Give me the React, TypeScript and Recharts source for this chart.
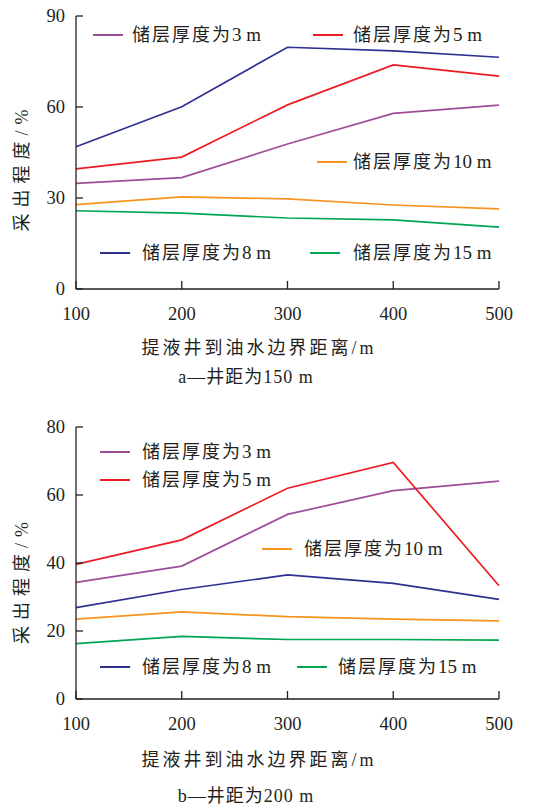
import React from 'react';
import { LineChart, Line, XAxis, YAxis, Label } from 'recharts';

// distance from liquid-producing well to the oil-water boundary, m
const distances = [100, 200, 300, 400, 500];

// a — well spacing 150 m, recovery degree %
const a3m = [34.8, 36.7, 47.8, 57.9, 60.6];
const a5m = [39.6, 43.5, 60.7, 73.9, 70.2];
const a8m = [46.9, 60.1, 79.7, 78.5, 76.4];
const a10m = [27.8, 30.4, 29.7, 27.7, 26.4];
const a15m = [25.8, 25.0, 23.4, 22.8, 20.4];

// b — well spacing 200 m
const b3m = [34.3, 39.1, 54.3, 61.3, 64.1];
const b5m = [39.6, 46.8, 62.0, 69.6, 33.3];
const b8m = [26.9, 32.2, 36.5, 34.0, 29.3];
const b10m = [23.5, 25.6, 24.2, 23.5, 23.0];
const b15m = [16.3, 18.4, 17.5, 17.5, 17.3];

const yTicksA = [0, 30, 60, 90];
const yTicksB = [0, 20, 40, 60, 80];

const seriesNames = ['储层厚度为3 m', '储层厚度为5 m', '储层厚度为8 m', '储层厚度为10 m', '储层厚度为15 m'];
const seriesKeys = ['t3', 't5', 't8', 't10', 't15'];
const seriesColors = ['#9e4d98', '#ed1c24', '#2e3192', '#f7941d', '#00a651'];

const yLabel = '采出程度/%';
const xLabel = '提液井到油水边界距离/m';
const titleA = 'a—井距为150 m';
const titleB = 'b—井距为200 m';

const axisColor = '#231f20';
const textColor = '#231f20';
const numFont = "'Liberation Serif', 'Noto Sans CJK SC', serif";
const cjkFont = "'Liberation Serif', 'Noto Sans CJK SC', serif";

const buildRows = (cols: number[][]) =>
  distances.map((d, i) => {
    const row: Record<string, number> = { d };
    seriesKeys.forEach((k, j) => (row[k] = cols[j][i]));
    return row;
  });

const dataA = buildRows([a3m, a5m, a8m, a10m, a15m]);
const dataB = buildRows([b3m, b5m, b8m, b10m, b15m]);

// legend placement inside each plot (page px): line start, text start, line centre y
const legendA = [
  { key: 't3', lx: 93, tx: 132, y: 35 },
  { key: 't5', lx: 313, tx: 353, y: 35 },
  { key: 't10', lx: 317, tx: 353, y: 162 },
  { key: 't8', lx: 100, tx: 142, y: 253 },
  { key: 't15', lx: 310, tx: 353, y: 253 },
];
const legendB = [
  { key: 't3', lx: 100, tx: 142, y: 452 },
  { key: 't5', lx: 100, tx: 142, y: 480 },
  { key: 't10', lx: 262, tx: 304, y: 549 },
  { key: 't8', lx: 100, tx: 142, y: 667 },
  { key: 't15', lx: 297, tx: 338, y: 667 },
];

// spread the Chinese characters, keep "3 m" tight
const splitName = (s: string) => {
  const i = s.search(/[0-9]/);
  return [s.slice(0, i), s.slice(i)];
};

const XTick = (props: any) => {
  const { x, y, payload } = props;
  return (
    <g>
      <line x1={x} y1={y} x2={x} y2={y - 8} stroke={axisColor} strokeWidth={1.3} />
      <text x={x} y={y + 31} textAnchor="middle" fontSize={18.5} fontFamily={numFont} fill={textColor}>
        {payload.value}
      </text>
    </g>
  );
};

const YTick = (props: any) => {
  const { x, y, payload } = props;
  return (
    <g>
      <line x1={x} y1={y} x2={x + 7} y2={y} stroke={axisColor} strokeWidth={1.3} />
      <text x={x - 11} y={y + 6} textAnchor="end" fontSize={18.5} fontFamily={numFont} fill={textColor}>
        {payload.value}
      </text>
    </g>
  );
};

const Panel = ({ data, yMax, yTicks, title, height, top, legend, yLabelShift, lblGap, titleGap }: any) => (
  <div style={{ position: 'absolute', left: 0, top, width: 560, height }}>
    <LineChart width={560} height={height} data={data} margin={{ top: top === 0 ? 16 : 27, right: 61, bottom: top === 0 ? 11 : 9, left: 0 }}>
      <XAxis
        dataKey="d"
        type="number"
        domain={[100, 500]}
        ticks={distances}
        height={100}
        tickSize={0}
        tickMargin={0}
        tickLine={false}
        tick={<XTick />}
        axisLine={{ stroke: axisColor, strokeWidth: 1.3 }}
        interval={0}
      >
        <Label
          content={(p: any) => {
            const vb = p.viewBox;
            return (
              <g fontFamily={cjkFont} fill={textColor} fontSize={18}>
                <text x={259} y={vb.y + lblGap} textAnchor="middle" letterSpacing={3} fill={textColor}>
                  {xLabel}
                </text>
                <text x={246} y={vb.y + titleGap} textAnchor="middle" letterSpacing={1} fill={textColor}>
                  {title}
                </text>
              </g>
            );
          }}
        />
      </XAxis>
      <YAxis
        type="number"
        domain={[0, yMax]}
        ticks={yTicks}
        width={76}
        tickSize={0}
        tickMargin={0}
        tickLine={false}
        tick={<YTick />}
        axisLine={{ stroke: axisColor, strokeWidth: 1.3 }}
        interval={0}
      >
        <Label
          content={(p: any) => {
            const vb = p.viewBox;
            const cx = 22;
            const cy = vb.y + vb.height / 2 + yLabelShift;
            return (
              <text
                x={cx}
                y={cy}
                transform={`rotate(-90, ${cx}, ${cy})`}
                textAnchor="middle"
                dominantBaseline="central"
                fontFamily={cjkFont}
                fontSize={18}
                letterSpacing={6}
                fill={textColor}
              >
                {yLabel}
              </text>
            );
          }}
        />
      </YAxis>
      {seriesKeys.map((k, i) => (
        <Line
          key={k}
          type="linear"
          dataKey={k}
          name={seriesNames[i]}
          stroke={seriesColors[i]}
          strokeWidth={1.7}
          dot={false}
          isAnimationActive={false}
        />
      ))}
    </LineChart>
    {legend.map((item: any) => {
      const idx = seriesKeys.indexOf(item.key);
      const [cjk, rest] = splitName(seriesNames[idx]);
      return (
        <React.Fragment key={item.key}>
          <div
            style={{
              position: 'absolute',
              left: item.lx,
              top: item.y - top - 1,
              width: 30,
              height: 2,
              background: seriesColors[idx],
            }}
          />
          <div
            style={{
              position: 'absolute',
              left: item.tx,
              top: item.y - top - 12,
              height: 24,
              lineHeight: '24px',
              fontFamily: cjkFont,
              fontSize: 18,
              color: textColor,
              whiteSpace: 'nowrap',
            }}
          >
            <span style={{ letterSpacing: 2 }}>{cjk}</span>
            <span style={{ fontSize: 19 }}>{rest}</span>
          </div>
        </React.Fragment>
      );
    })}
  </div>
);

export default function App() {
  return (
    <div style={{ position: 'absolute', left: 0, top: 0, width: 560, height: 808, background: '#fff' }}>
      <Panel data={dataA} yMax={90} yTicks={yTicksA} title={titleA} height={400} top={0} legend={legendA} yLabelShift={15} lblGap={65} titleGap={94} />
      <Panel data={dataB} yMax={80} yTicks={yTicksB} title={titleB} height={408} top={400} legend={legendB} yLabelShift={17} lblGap={67} titleGap={103} />
    </div>
  );
}
